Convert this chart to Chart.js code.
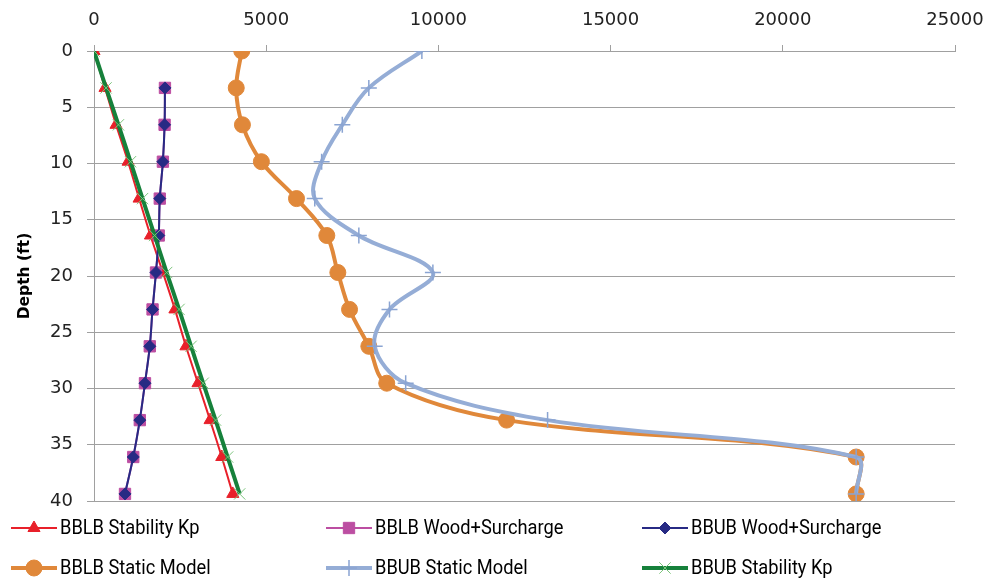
<!DOCTYPE html>
<html>
<head>
<meta charset="utf-8">
<script src="https://cdn.jsdelivr.net/npm/chart.js@4/dist/chart.umd.min.js"></script>
<style>
html,body{margin:0;padding:0;background:#fff;}
#wrap{position:relative;width:988px;height:579px;}
</style>
</head>
<body>
<div id="wrap"><canvas id="c"></canvas></div>
<script>
// Depth (ft) of each reading
const depth = [0, 3.28, 6.56, 9.84, 13.12, 16.40, 19.69, 22.97, 26.25, 29.53, 32.81, 36.09, 39.37];
// Series values (x)
const bblbStabilityKp = [0, 320, 640, 990, 1310, 1640, 2000, 2350, 2670, 3020, 3370, 3710, 4030];
const bblbWoodSurcharge = [null, 2060, 2050, 2000, 1910, 1880, 1800, 1700, 1620, 1480, 1330, 1140, 900];
const bbubWoodSurcharge = [null, 2060, 2050, 2000, 1910, 1880, 1800, 1700, 1620, 1480, 1330, 1140, 900];
const bblbStaticModel = [4290, 4130, 4310, 4860, 5880, 6760, 7080, 7420, 7980, 8500, 11980, 22130, 22130];
const bbubStaticModel = [9520, 7980, 7210, 6610, 6410, 7690, 9840, 8580, 8150, 9050, 13170, 22130, 22130];
const bbubStabilityKp = [0, 350, 710, 1060, 1410, 1760, 2110, 2470, 2820, 3170, 3530, 3880, 4230];
// Tick labels
const xTicks = [0, 5000, 10000, 15000, 20000, 25000];
const yTicks = [0, 5, 10, 15, 20, 25, 30, 35, 40];

function pts(vals){
  const out = [];
  vals.forEach((v,i)=>{ if(v!==null) out.push({x:v, y:depth[i]}); });
  return out;
}

function drawMarker(ctx, style, x, y, r, bg, border, bw){
  ctx.save();
  ctx.fillStyle = bg; ctx.strokeStyle = border; ctx.lineWidth = bw;
  ctx.beginPath();
  if(style==='triangle'){
    const a = 2*Math.PI/3;
    ctx.moveTo(x, y - r);
    ctx.lineTo(x + Math.sin(a)*r, y - Math.cos(a)*r);
    ctx.lineTo(x - Math.sin(a)*r, y - Math.cos(a)*r);
    ctx.closePath(); ctx.fill(); ctx.stroke();
  } else if(style==='rect'){
    const s = Math.SQRT1_2*r;
    ctx.rect(x-s, y-s, 2*s, 2*s); ctx.fill(); ctx.stroke();
  } else if(style==='rectRot'){
    ctx.moveTo(x-r,y); ctx.lineTo(x,y-r); ctx.lineTo(x+r,y); ctx.lineTo(x,y+r);
    ctx.closePath(); ctx.fill(); ctx.stroke();
  } else if(style==='circle'){
    ctx.arc(x,y,r,0,Math.PI*2); ctx.fill(); ctx.stroke();
  } else if(style==='cross'){
    ctx.moveTo(x-r,y); ctx.lineTo(x+r,y); ctx.moveTo(x,y-r); ctx.lineTo(x,y+r); ctx.stroke();
  } else if(style==='crossRot'){
    const d = r*Math.SQRT1_2;
    ctx.moveTo(x-d,y-d); ctx.lineTo(x+d,y+d); ctx.moveTo(x+d,y-d); ctx.lineTo(x-d,y+d); ctx.stroke();
  }
  ctx.restore();
}

const legendPlugin = {
  id: 'gridLegend',
  afterDraw(chart){
    const ctx = chart.ctx;
    const cols = [11, 326, 642];
    const rows = [528, 568];
    chart.data.datasets.forEach((ds,i)=>{
      const x0 = cols[i%3], y = rows[Math.floor(i/3)];
      ctx.save();
      ctx.strokeStyle = ds.borderColor;
      ctx.lineWidth = ds.borderWidth;
      ctx.beginPath(); ctx.moveTo(x0, y); ctx.lineTo(x0+46, y); ctx.stroke();
      drawMarker(ctx, ds.pointStyle, x0+23, y, ds.pointRadius, ds.pointBackgroundColor, ds.pointBorderColor, ds.pointBorderWidth);
      ctx.fillStyle = '#000';
      ctx.font = '21px Roboto, "Liberation Sans", sans-serif';
      ctx.textBaseline = 'middle';
      ctx.textAlign = 'left';
      ctx.translate(x0+49, y+1);
      ctx.scale(0.87, 1);
      ctx.fillText(ds.label, 0, 0);
      ctx.restore();
    });
  }
};

const common = {showLine:true, fill:false};
const datasets = [
  {...common, label:'BBLB Stability Kp', data:pts(bblbStabilityKp), borderColor:'#e8202a', borderWidth:2,
   pointStyle:'triangle', pointRadius:7, pointBackgroundColor:'#e8202a', pointBorderColor:'#e8202a', pointBorderWidth:1, tension:0.3, order:6},
  {...common, label:'BBLB Wood+Surcharge', data:pts(bblbWoodSurcharge), borderColor:'#bc4ea2', borderWidth:2,
   pointStyle:'rect', pointRadius:8, pointBackgroundColor:'#bc4ea2', pointBorderColor:'#bc4ea2', pointBorderWidth:1, tension:0.3, order:5},
  {...common, label:'BBUB Wood+Surcharge', data:pts(bbubWoodSurcharge), borderColor:'#272a84', borderWidth:2,
   pointStyle:'rectRot', pointRadius:6, pointBackgroundColor:'#272a84', pointBorderColor:'#272a84', pointBorderWidth:1, tension:0.3, order:4},
  {...common, label:'BBLB Static Model', data:pts(bblbStaticModel), borderColor:'#e0883a', borderWidth:4,
   pointStyle:'circle', pointRadius:8, pointBackgroundColor:'#e0883a', pointBorderColor:'#e0883a', pointBorderWidth:1, tension:0.35, order:3},
  {...common, label:'BBUB Static Model', data:pts(bbubStaticModel), borderColor:'#95add6', borderWidth:4,
   pointStyle:'cross', pointRadius:8, pointBackgroundColor:'#95add6', pointBorderColor:'#8aa4d2', pointBorderWidth:1.5, tension:0.35, order:2},
  {...common, label:'BBUB Stability Kp', data:pts(bbubStabilityKp), borderColor:'#16813b', borderWidth:4,
   pointStyle:'crossRot', pointRadius:8, pointBackgroundColor:'#7cc47c', pointBorderColor:'#7cc47c', pointBorderWidth:1, tension:0.3, order:1}
];

new Chart(document.getElementById('c'), {
  type: 'scatter',
  data: {datasets},
  plugins: [legendPlugin],
  options: {
    responsive: true,
    maintainAspectRatio: false,
    animation: false,
    layout: {padding: {left:0, top:0, right:33, bottom:78}},
    plugins: {legend:{display:false}, tooltip:{enabled:false}},
    scales: {
      x: {
        type:'linear', position:'top', min:0, max:25000,
        afterBuildTicks(scale){ scale.ticks = xTicks.map(v=>({value:v})); },
        afterFit(scale){ scale.height = 51; scale.paddingLeft = 0; scale.paddingRight = 0; },
        ticks:{ color:'#222', font:{family:'"DejaVu Sans"', size:18}, padding:14, maxRotation:0,
                callback:(v)=>String(v) },
        grid:{ drawOnChartArea:false, drawTicks:true, tickLength:6, color:'#a0a0a0' },
        border:{ display:true, color:'#a0a0a0', width:1 }
      },
      y: {
        type:'linear', position:'left', reverse:true, min:0, max:40,
        afterBuildTicks(scale){ scale.ticks = yTicks.map(v=>({value:v})); },
        afterFit(scale){ scale.width = 94; scale.paddingTop = 0; scale.paddingBottom = 0; },
        ticks:{ color:'#222', font:{family:'"DejaVu Sans"', size:18}, padding:14 },
        grid:{ drawOnChartArea:true, drawTicks:true, tickLength:7, color:'#a0a0a0' },
        border:{ display:true, color:'#a0a0a0', width:1 },
        title:{ display:true, text:'Depth (ft)', color:'#000', font:{family:'"DejaVu Sans"', size:15.5, weight:'bold'}, padding:{top:16, bottom:0} }
      }
    }
  }
});
</script>
</body>
</html>
